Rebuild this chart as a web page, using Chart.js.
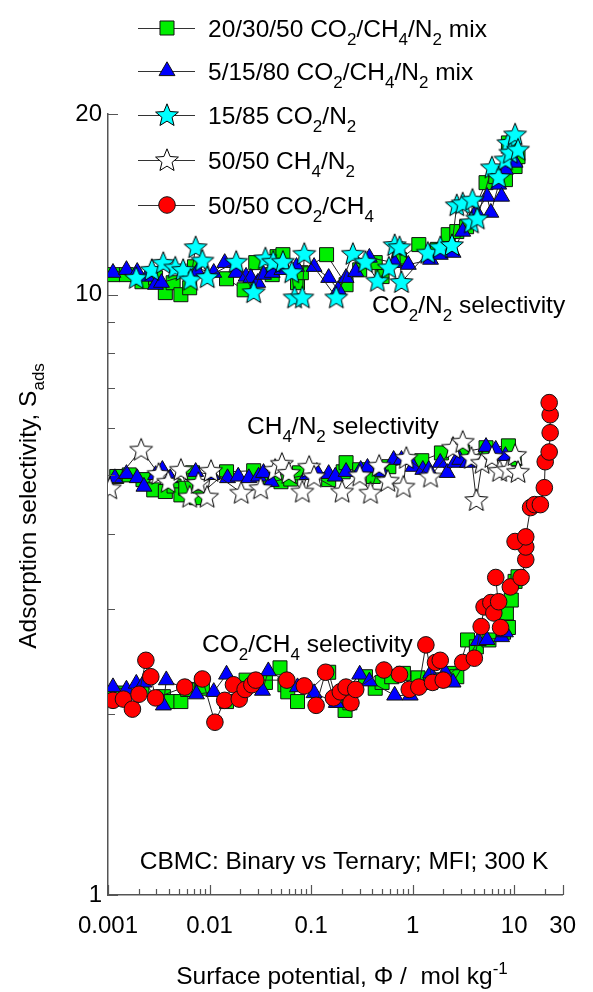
<!DOCTYPE html>
<html>
<head>
<meta charset="utf-8">
<script src="https://cdn.jsdelivr.net/npm/chart.js@4.4.1/dist/chart.umd.min.js"></script>
<style>
html, body { margin: 0; padding: 0; background: #fff; }
</style>
</head>
<body>
<canvas id="chart" width="593" height="992"></canvas>
<script>
// axis ticks
const xTickLabels = [0.001, 0.01, 0.1, 1, 10, 30];
const yTickLabels = [1, 10, 20];

// 20/30/50 CO2/CH4/N2 mix (green squares), one array per selectivity branch
const mix1_CO2N2 = [[0.00112,10.8],[0.00152,10.8],[0.00216,10.51],[0.00294,10.67],[0.00367,10.08],[0.00438,10.47],[0.00522,10.0],[0.00637,10.27],[0.0071,11.13],[0.0147,10.63],[0.0219,10.19],[0.0285,11.31],[0.0414,10.8],[0.0462,11.57],[0.0528,11.66],[0.0735,10.47],[0.0802,10.88],[0.142,11.66],[0.221,10.39],[0.301,11.0],[0.428,11.31],[0.5,10.72],[0.743,11.44],[1.15,12.12],[1.75,11.9],[2.24,12.59],[2.72,12.74],[3.4,12.98],[5.28,15.37],[6.58,15.73],[8.2,15.55],[8.77,17.9],[10.2,16.35],[10.9,16.98]];
const mix1_CH4N2 = [[0.00122,4.98],[0.00162,5.01],[0.00221,4.92],[0.00282,4.73],[0.00367,4.70],[0.00447,4.80],[0.00522,4.64],[0.00583,4.76],[0.0068,5.05],[0.00743,4.59],[0.0147,5.07],[0.0272,5.09],[0.0396,4.92],[0.0505,4.88],[0.063,4.93],[0.0768,5.05],[0.149,4.92],[0.207,5.07],[0.221,5.25],[0.301,5.11],[0.409,4.98],[0.583,5.17],[1.23,5.29],[1.92,5.45],[3.11,5.47],[5.28,5.56],[8.77,5.60],[10.0,5.33]];
const mix1_CO2CH4 = [[0.00112,2.15],[0.00136,2.17],[0.00216,2.20],[0.00351,2.14],[0.00392,2.10],[0.00522,2.10],[0.00609,2.20],[0.0085,2.21],[0.0147,2.10],[0.0229,2.28],[0.0355,2.26],[0.0494,2.39],[0.0552,2.24],[0.0589,2.18],[0.0735,2.10],[0.149,2.35],[0.177,2.11],[0.216,2.03],[0.241,2.09],[0.343,2.31],[0.428,2.21],[0.5,2.26],[0.622,2.31],[0.811,2.34],[1.13,2.30],[1.50,2.26],[1.87,2.28],[2.34,2.34],[2.72,2.31],[3.47,2.66],[4.24,2.59],[5.64,2.66],[7.85,2.74],[8.77,2.79],[8.38,2.95],[9.36,3.10],[10.2,3.33],[10.9,3.39]];

// 5/15/80 CO2/CH4/N2 mix (blue triangles)
const mix2_CO2N2 = [[0.00112,10.88],[0.00152,11.0],[0.00194,10.92],[0.00242,10.72],[0.00294,10.39],[0.00336,10.47],[0.0076,10.92],[0.011,10.88],[0.0141,11.3],[0.0183,10.88],[0.0229,10.72],[0.0255,10.67],[0.0298,10.47],[0.034,10.8],[0.0414,10.88],[0.0516,11.0],[0.0718,11.13],[0.107,11.13],[0.149,10.67],[0.185,10.19],[0.221,10.67],[0.275,10.92],[0.375,11.53],[0.665,11.3],[0.906,11.22],[1.50,11.44],[1.87,11.66],[2.50,11.75],[3.11,12.74],[4.24,13.75],[5.40,14.57],[5.89,13.7],[7.03,15.26],[7.51,14.57],[8.2,16.16],[10.2,16.6]];
const mix2_CH4N2 = [[0.00117,4.95],[0.00152,5.03],[0.00194,4.95],[0.00226,4.79],[0.00294,5.01],[0.00343,5.11],[0.0041,4.95],[0.0073,5.07],[0.01057,5.01],[0.01503,4.95],[0.01916,4.98],[0.0244,4.95],[0.0304,4.98],[0.034,5.05],[0.0405,4.88],[0.0916,5.01],[0.114,5.07],[0.149,5.03],[0.173,4.98],[0.221,5.07],[0.308,5.11],[0.359,5.15],[0.5,5.07],[0.65,5.31],[0.776,5.31],[1.01,5.17],[1.26,5.11],[1.44,5.11],[1.87,5.25],[2.19,5.05],[2.61,5.25],[2.91,5.31],[3.47,5.25],[5.28,5.58],[6.58,5.52],[8.2,5.39]];
const mix2_CO2CH4 = [[0.00112,2.22],[0.00152,2.20],[0.0019,2.25],[0.00226,2.26],[0.00351,2.07],[0.00375,2.28],[0.00743,2.16],[0.011,2.18],[0.0147,2.33],[0.0332,2.19],[0.0379,2.36],[0.0735,2.22],[0.107,2.17],[0.177,2.09],[0.301,2.33],[0.375,2.27],[0.665,2.15],[0.946,2.15],[1.50,2.34],[2.09,2.35],[2.50,2.26],[4.42,2.65],[5.40,2.66],[7.51,2.69],[8.2,2.74]];

// binary mixtures
const bin_CO2N2 = [[0.0019,10.67],[0.0027,11.0],[0.0035,11.3],[0.0046,11.1],[0.0055,11.0],[0.0065,10.6],[0.0073,12.0],[0.0085,11.4],[0.0095,10.7],[0.0183,11.35],[0.0272,10.1],[0.0355,11.5],[0.0424,11.35],[0.0528,11.35],[0.0644,10.9],[0.0688,9.9],[0.082,9.9],[0.0857,11.7],[0.177,9.9],[0.258,11.7],[0.343,11.35],[0.45,10.55],[0.583,11.1],[0.665,12.1],[0.743,12.0],[0.776,10.5],[1.41,11.75],[1.87,12.0],[2.44,12.1],[2.72,14.1],[3.11,14.2],[3.79,13.2],[3.88,14.4],[4.33,13.4],[6.03,16.3],[7.03,15.7],[8.2,16.8],[8.77,17.9],[9.16,17.25],[10.2,18.5],[10.9,17.45]];
const bin_CH4N2 = [[0.00104,4.76],[0.00212,5.52],[0.00315,5.03],[0.00392,4.88],[0.00522,5.11],[0.00637,4.61],[0.00776,4.86],[0.00946,4.61],[0.01034,5.09],[0.0205,4.68],[0.0318,4.76],[0.0442,5.11],[0.0516,5.23],[0.0603,5.05],[0.082,4.70],[0.0957,5.17],[0.107,4.98],[0.202,4.70],[0.301,5.0],[0.384,4.68],[0.468,5.19],[0.570,4.90],[0.811,4.79],[0.867,5.35],[1.50,4.98],[2.50,5.56],[3.11,5.69],[3.79,5.35],[4.24,4.55],[4.83,5.25],[6.03,5.37],[7.18,5.09],[8.77,5.11],[10.2,5.41],[10.9,5.07]];
const bin_CO2CH4 = [[0.00112,2.11],[0.00142,2.12],[0.00174,2.04],[0.00202,2.16],[0.00236,2.46],[0.00264,2.31],[0.00294,2.13],[0.0057,2.22],[0.0085,2.29],[0.01129,1.94],[0.0141,2.11],[0.0172,2.24],[0.0196,2.12],[0.0224,2.20],[0.0261,2.24],[0.0285,2.28],[0.0577,2.28],[0.0857,2.23],[0.112,2.07],[0.139,2.35],[0.166,2.13],[0.194,2.18],[0.221,2.22],[0.247,2.09],[0.275,2.20],[0.522,2.37],[0.743,2.33],[0.926,2.20],[1.15,2.22],[1.35,2.61],[1.57,2.26],[1.68,2.44],[1.87,2.46],[2.0,2.28],[3.11,2.44],[4.05,2.48],[4.73,2.80],[5.05,3.02],[5.89,3.07],[6.30,2.95],[7.03,3.08],[7.34,2.79],[6.58,3.38],[9.16,3.26],[11.7,3.38],[13.0,3.62],[13.0,3.80],[10.2,3.88],[13.0,3.95],[14.5,4.42],[15.9,4.47],[18.1,4.47],[19.8,4.77],[20.2,5.27],[22.1,5.47],[22.6,5.89],[22.6,6.31],[22.1,6.61]];

const FONT = 'Arial, "Liberation Sans", sans-serif';
const FS = 24.5;

function makeStar(fill) {
    const c = document.createElement('canvas');
    c.width = 28; c.height = 28;
    const g = c.getContext('2d');
    const R = 12, r = 5.3, cx = 14, cy = 14.8;
    g.beginPath();
    for (let i = 0; i < 10; i++) {
        const a = -Math.PI / 2 + i * Math.PI / 5;
        const rr = i % 2 ? r : R;
        g.lineTo(cx + rr * Math.cos(a), cy + rr * Math.sin(a));
    }
    g.closePath();
    g.fillStyle = fill;
    g.fill();
    g.lineWidth = 1;
    g.strokeStyle = '#000';
    g.stroke();
    return c;
}
const cyanStar = makeStar('#00ffff');
const whiteStar = makeStar('#ffffff');

const styles = {
    mix1: { pointStyle: 'rect', radius: 9.9, fill: '#00ee00' },
    mix2: { pointStyle: 'triangle', radius: 9.2, fill: '#0000ff' },
    binCO2N2: { pointStyle: cyanStar, radius: 10, fill: '#00ffff' },
    binCH4N2: { pointStyle: whiteStar, radius: 10, fill: '#ffffff' },
    binCO2CH4: { pointStyle: 'circle', radius: 8.3, fill: '#ff0000' }
};

function ds(points, st, order) {
    return {
        data: points.map(p => ({ x: p[0], y: p[1] })),
        showLine: true,
        borderColor: '#222',
        borderWidth: 1,
        pointStyle: st.pointStyle,
        pointRadius: st.radius,
        pointBackgroundColor: st.fill,
        pointBorderColor: '#111',
        pointBorderWidth: 1,
        order: order
    };
}

// draw text with subscripts / superscripts
function rich(ctx, parts, x, y, size, align) {
    const fontFor = k => ((k === 'sub' || k === 'sup') ? Math.round(size * 0.68) : size) + 'px ' + FONT;
    let w = 0;
    parts.forEach(p => { ctx.font = fontFor(p[1]); w += ctx.measureText(p[0]).width; });
    let cx = align === 'center' ? x - w / 2 : x;
    ctx.textAlign = 'left';
    ctx.textBaseline = 'alphabetic';
    parts.forEach(p => {
        ctx.font = fontFor(p[1]);
        const dy = p[1] === 'sub' ? size * 0.32 : (p[1] === 'sup' ? -size * 0.42 : 0);
        ctx.fillText(p[0], cx, y + dy);
        cx += ctx.measureText(p[0]).width;
    });
}

const legendItems = [
    { st: styles.mix1, text: [['20/30/50 CO', 'n'], ['2', 'sub'], ['/CH', 'n'], ['4', 'sub'], ['/N', 'n'], ['2', 'sub'], [' mix', 'n']] },
    { st: styles.mix2, text: [['5/15/80 CO', 'n'], ['2', 'sub'], ['/CH', 'n'], ['4', 'sub'], ['/N', 'n'], ['2', 'sub'], [' mix', 'n']] },
    { st: styles.binCO2N2, text: [['15/85 CO', 'n'], ['2', 'sub'], ['/N', 'n'], ['2', 'sub']] },
    { st: styles.binCH4N2, text: [['50/50 CH', 'n'], ['4', 'sub'], ['/N', 'n'], ['2', 'sub']] },
    { st: styles.binCO2CH4, text: [['50/50 CO', 'n'], ['2', 'sub'], ['/CH', 'n'], ['4', 'sub']] }
];

function legendMarker(ctx, st, x, y) {
    ctx.save();
    ctx.fillStyle = st.fill;
    ctx.strokeStyle = '#111';
    ctx.lineWidth = 1;
    if (typeof st.pointStyle === 'object') {
        ctx.drawImage(st.pointStyle, x - st.pointStyle.width / 2, y - st.pointStyle.height / 2);
    } else {
        ctx.beginPath();
        const r = st.radius;
        if (st.pointStyle === 'rect') {
            const s = r * Math.SQRT1_2;
            ctx.rect(x - s, y - s, 2 * s, 2 * s);
        } else if (st.pointStyle === 'triangle') {
            for (let i = 0; i < 3; i++) {
                const a = i * 2 * Math.PI / 3;
                ctx.lineTo(x + Math.sin(a) * r, y - Math.cos(a) * r);
            }
            ctx.closePath();
        } else {
            ctx.arc(x, y, r, 0, 2 * Math.PI);
        }
        ctx.fill();
        ctx.stroke();
    }
    ctx.restore();
}

const decor = {
    id: 'decor',
    afterDraw(chart) {
        const ctx = chart.ctx;
        const xs = chart.scales.x, ys = chart.scales.y;
        const ca = chart.chartArea;
        ctx.save();
        ctx.strokeStyle = '#555';
        ctx.lineWidth = 1.2;
        // x ticks pointing inward
        const xMinor = [];
        for (let d = 0.001; d < 20; d *= 10) {
            for (let k = 2; k <= 9; k++) if (k * d < 30) xMinor.push(k * d);
        }
        xMinor.push(20);
        ctx.beginPath();
        xTickLabels.forEach(v => { const px = Math.round(xs.getPixelForValue(v)) + 0.5; ctx.moveTo(px, ca.bottom); ctx.lineTo(px, ca.bottom - 10); });
        xMinor.forEach(v => { const px = Math.round(xs.getPixelForValue(v)) + 0.5; ctx.moveTo(px, ca.bottom); ctx.lineTo(px, ca.bottom - 6); });
        // y ticks pointing inward
        yTickLabels.forEach(v => { const py = Math.round(ys.getPixelForValue(v)) + 0.5; ctx.moveTo(ca.left, py); ctx.lineTo(ca.left + 10, py); });
        for (let k = 2; k <= 9; k++) { const py = Math.round(ys.getPixelForValue(k)) + 0.5; ctx.moveTo(ca.left, py); ctx.lineTo(ca.left + 7, py); }
        ctx.stroke();
        ctx.restore();

        ctx.save();
        ctx.fillStyle = '#000';
        // annotations
        rich(ctx, [['CO', 'n'], ['2', 'sub'], ['/N', 'n'], ['2', 'sub'], [' selectivity', 'n']], 372, 313, FS, 'left');
        rich(ctx, [['CH', 'n'], ['4', 'sub'], ['/N', 'n'], ['2', 'sub'], [' selectivity', 'n']], 247, 434, FS, 'left');
        rich(ctx, [['CO', 'n'], ['2', 'sub'], ['/CH', 'n'], ['4', 'sub'], [' selectivity', 'n']], 202, 652, FS, 'left');
        rich(ctx, [['CBMC: Binary vs Ternary; MFI; 300 K', 'n']], 344, 869, FS, 'center');
        // axis titles
        rich(ctx, [['Surface potential, \u03A6 /  mol kg', 'n'], ['-1', 'sup']], 342, 984, FS, 'center');
        ctx.save();
        ctx.translate(36, 506);
        ctx.rotate(-Math.PI / 2);
        rich(ctx, [['Adsorption selectivity, S', 'n'], ['ads', 'sub']], 0, 0, FS, 'center');
        ctx.restore();

        // legend
        const rowsY = [28, 71, 115, 160, 205];
        legendItems.forEach((it, i) => {
            const y = rowsY[i];
            ctx.save();
            ctx.strokeStyle = '#333';
            ctx.lineWidth = 1;
            ctx.beginPath();
            ctx.moveTo(138, y + 0.5);
            ctx.lineTo(195, y + 0.5);
            ctx.stroke();
            ctx.restore();
            legendMarker(ctx, it.st, 167, y);
            rich(ctx, it.text, 208, y + 9, FS, 'left');
        });
        ctx.restore();
    }
};

Chart.defaults.font.family = FONT;
Chart.defaults.font.size = 24;
Chart.defaults.color = '#000';

const ctx = document.getElementById('chart').getContext('2d');
const chart = new Chart(ctx, {
    type: 'scatter',
    data: {
        datasets: [
            ds(bin_CO2N2, styles.binCO2N2, 0),
            ds(bin_CH4N2, styles.binCH4N2, 0),
            ds(bin_CO2CH4, styles.binCO2CH4, 0),
            ds(mix2_CO2N2, styles.mix2, 1),
            ds(mix2_CH4N2, styles.mix2, 1),
            ds(mix2_CO2CH4, styles.mix2, 1),
            ds(mix1_CO2N2, styles.mix1, 2),
            ds(mix1_CH4N2, styles.mix1, 2),
            ds(mix1_CO2CH4, styles.mix1, 2)
        ]
    },
    options: {
        responsive: false,
        animation: false,
        layout: { padding: { top: 114, right: 17, left: 0, bottom: 0 } },
        plugins: { legend: { display: false }, tooltip: { enabled: false } },
        scales: {
            x: {
                type: 'logarithmic',
                min: 0.001,
                max: 30,
                afterBuildTicks: s => { s.ticks = xTickLabels.map(v => ({ value: v })); },
                afterFit: s => { s.height = 97; },
                ticks: { autoSkip: false, maxRotation: 0, padding: 17, callback: v => String(v) },
                grid: { display: true, drawOnChartArea: false, drawTicks: false },
                border: { display: true, color: '#555', width: 1.5 }
            },
            y: {
                type: 'logarithmic',
                min: 1,
                max: 20,
                afterBuildTicks: s => { s.ticks = yTickLabels.map(v => ({ value: v })); },
                afterFit: s => { s.width = 108; },
                ticks: { autoSkip: false, padding: 6, callback: v => String(v) },
                grid: { display: true, drawOnChartArea: false, drawTicks: false },
                border: { display: true, color: '#555', width: 1.5 }
            }
        }
    },
    plugins: [decor]
});
</script>
</body>
</html>
